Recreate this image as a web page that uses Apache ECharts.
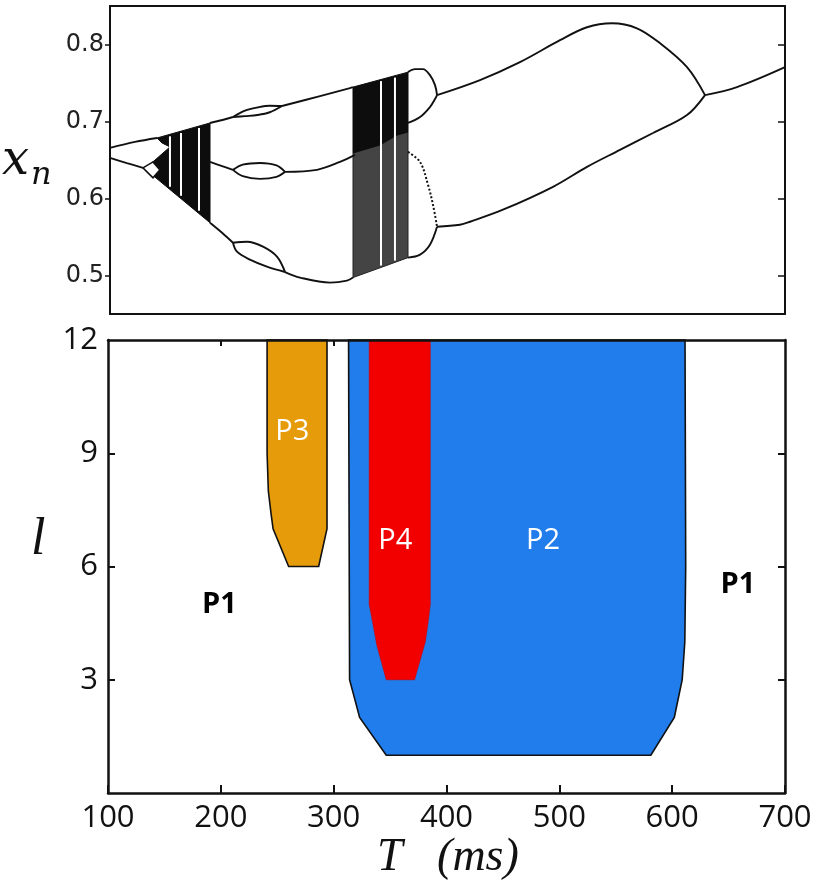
<!DOCTYPE html>
<html><head><meta charset="utf-8">
<script src="https://cdn.jsdelivr.net/npm/echarts@6/dist/echarts.min.js"></script>
<style>html,body{margin:0;padding:0;background:#fff}#c{width:819px;height:885px}</style>
</head><body><div id="c"></div>
<script>
// ---------- Top panel: bifurcation diagram (T, x_n) ----------
const xnTicks = [0.5, 0.6, 0.7, 0.8];
const upperLeft = [[100,0.6657],[122.2,0.6735],[141.8,0.6786]];
const lowerLeft = [[100,0.6527],[115,0.6460],[129.3,0.6398]];
const upperMid1 = [[188.9,0.6981],[200,0.7020],[209.3,0.7058]];
const upperBubbleTop = [[209.3,0.7058],[220,0.7140],[231,0.7182],[242,0.7205],[252.9,0.7201]];
const upperBubbleBot = [[209.3,0.7058],[220,0.7070],[231,0.7084],[242,0.7120],[252.9,0.7201]];
const upperMid2 = [[252.9,0.7201],[286.7,0.7330],[313.3,0.7434],[316,0.7447]];
const middle1 = [[188.9,0.6475],[199,0.6424],[209.3,0.6372]];
const middleBubbleTop = [[209.3,0.6372],[218,0.6440],[233.3,0.6462],[248,0.6430],[255.6,0.6346]];
const middleBubbleBot = [[209.3,0.6372],[218,0.6290],[233.3,0.6255],[248,0.6280],[255.6,0.6346]];
const middle2 = [[255.6,0.6346],[284,0.6372],[304.4,0.6475],[317.8,0.6566]];
const lower1 = [[188.9,0.5685],[199.6,0.5555],[209.3,0.5426]];
const lowerBubbleTop = [[209.3,0.5426],[221.8,0.5439],[236,0.5374],[248.4,0.5245],[255.6,0.5045]];
const lowerBubbleBot = [[209.3,0.5426],[212.9,0.5310],[224.4,0.5206],[239.5,0.5115],[255.6,0.5045]];
const lower2 = [[255.6,0.5045],[268.9,0.4973],[295.6,0.4908],[310.7,0.4934],[316,0.4973]];
const loopTopUpper = [[364.9,0.7641],[371.1,0.7680],[378.2,0.7680],[384.4,0.7602],[388.9,0.7473],[390.7,0.7343]];
const loopTopLower = [[364.9,0.6981],[375.6,0.7058],[384.4,0.7188],[388.9,0.7291],[390.7,0.7343]];
const loopBotUpper = [[364.9,0.6605],[375.6,0.6475],[382.7,0.6177],[387.1,0.5918],[390.7,0.5633]];
const loopBotLower = [[364.9,0.5232],[375.6,0.5271],[384.4,0.5400],[390.7,0.5633]];
const p2Upper = [[390.7,0.7343],[428.9,0.7538],[464.4,0.7771],[500,0.8056],[524,0.8224],[546.2,0.8276],[568.4,0.8211],[588.9,0.8017],[612.9,0.7706],[628.9,0.7343]];
const p2Lower = [[390.7,0.5633],[411.1,0.5659],[420,0.5698],[449.3,0.5854],[493.8,0.6152],[524,0.6411],[553.3,0.6631],[582.7,0.6851],[612.9,0.7084],[628.9,0.7343]];
const rightTail = [[628.9,0.7343],[657.3,0.7447],[700,0.7706]];

// chaotic bands (outlines) and periodic windows
const chaos1 = [[141.8,0.6786],[188.9,0.6981],[188.9,0.5685],[131.1,0.6385],[153.3,0.6670],[146.2,0.6722]];
const chaos2Dense = [[316,0.7447],[364.9,0.7641],[364.9,0.6864],[355.1,0.6825],[340,0.6696],[316,0.6592]];
const chaos2Sparse = [[316,0.6592],[340,0.6696],[355.1,0.6825],[364.9,0.6864],[364.9,0.5232],[316,0.4973]];
const diamond = [[129.3,0.6398],[138.2,0.6475],[144.4,0.6372],[138.2,0.6268]];
const windows = [
  [[153.3,0.6808],[153.3,0.6152]],
  [[163.1,0.6851],[163.1,0.6035]],
  [[179.1,0.6916],[179.1,0.5841]],
  [[340.9,0.7525],[340.9,0.5129]],
  [[353.3,0.7570],[353.3,0.5193]]
];

// ---------- Bottom panel: regions in (T, l) ----------
const tTicks = [100,200,300,400,500,600,700];
const lTicks = [3,6,9,12];
const regionP2 = [[313.2,12],[314.1,3],[323,2],[346.6,1],[581.1,1],[601.9,2],[608.9,3],[611.2,4],[612,6],[611.4,12]];
const regionP4 = [[331.5,12],[331.5,5.0],[334,4.6],[338.4,3.9],[346.6,3],[371.7,3],[381.2,4],[384.1,4.6],[385.6,5.0],[385.6,12]];
const regionP3 = [[241,12],[241,9],[242.1,8],[244.5,7.4],[246.3,7],[260.1,6],[286.7,6],[294.1,7],[294.1,12]];
const regionNames = ['P3','P4','P2'];
const regionLabelPos = [[263.4,9.56],[354.6,6.67],[485.6,6.67]];
const p1LabelPos = [[198.7,4.98],[658.3,5.51]];

const chart = echarts.init(document.getElementById('c'), null, {renderer:'canvas'});

function polygon(points, xi, yi, style, z) {
  return {
    type:'custom', xAxisIndex:xi, yAxisIndex:yi, data:points, z:z, silent:true,
    renderItem:function(params, api){
      if (params.dataIndex !== 0) return null;
      return {type:'polygon', shape:{points: points.map(function(p){return api.coord(p);})}, style:style};
    }
  };
}
function line(data, opts) {
  opts = opts || {};
  return {
    type:'line', xAxisIndex:0, yAxisIndex:0, data:data, showSymbol:false, silent:true,
    smooth: opts.smooth == null ? 0.35 : opts.smooth, z: opts.z || 4,
    lineStyle:{color: opts.color || '#111', width: opts.width || 1.9, type: opts.type || 'solid'}
  };
}

const series = [];
series.push(polygon(chaos1, 0, 0, {fill:'#0d0d0d', stroke:'#0d0d0d', lineWidth:1}, 2));
series.push(polygon(chaos2Sparse, 0, 0, {fill:'#444', stroke:'#222', lineWidth:1}, 2));
series.push(polygon(chaos2Dense, 0, 0, {fill:'#0d0d0d', stroke:'#0d0d0d', lineWidth:1}, 2));
windows.forEach(function(w){ series.push(line(w, {color:'#fff', width:2, smooth:false, z:3})); });
[upperLeft, lowerLeft, upperMid1, upperBubbleTop, upperBubbleBot, upperMid2, middle1,
 middleBubbleTop, middleBubbleBot, middle2, lower1, lowerBubbleTop, lowerBubbleBot, lower2,
 loopTopUpper, loopTopLower, loopBotLower, p2Upper, p2Lower, rightTail].forEach(function(b){ series.push(line(b)); });
series.push(line(loopBotUpper, {type:'dotted', width:2}));
series.push(polygon(diamond, 0, 0, {fill:'#fff', stroke:'#111', lineWidth:1.6}, 5));

// bottom regions
series.push(polygon(regionP2, 2, 2, {fill:'#207DEB', stroke:'#111', lineWidth:1.6}, 2));
series.push(polygon(regionP4, 2, 2, {fill:'#F20000', stroke:'#d00000', lineWidth:0.6}, 3));
series.push(polygon(regionP3, 2, 2, {fill:'#E69B0A', stroke:'#111', lineWidth:1.6}, 3));
series.push({
  type:'scatter', xAxisIndex:2, yAxisIndex:2, symbolSize:0, silent:true, z:6,
  itemStyle:{color:'#fff', opacity:1},
  data: regionNames.map(function(n,i){ return {name:n, value:regionLabelPos[i]}; }),
  label:{show:true, position:'inside', formatter:'{b}', color:'#fff', opacity:1, textBorderWidth:0, fontSize:29, fontFamily:'Open Sans'}
});
series.push({
  type:'scatter', xAxisIndex:2, yAxisIndex:2, symbolSize:0, silent:true, z:6,
  itemStyle:{color:'#fff', opacity:1},
  data: p1LabelPos.map(function(p){ return {name:'P1', value:p}; }),
  label:{show:true, position:'inside', formatter:'{b}', color:'#000', opacity:1, textBorderWidth:0, fontSize:29, fontWeight:'bold', fontFamily:'Open Sans'}
});

const lblFont = {fontSize:31, fontFamily:'Open Sans', color:'#111'};
const frame2 = {show:true, onZero:false, lineStyle:{color:'#111', width:2.5}};
const frame1 = {show:true, onZero:false, lineStyle:{color:'#111', width:2}};

chart.setOption({
  animation:false,
  backgroundColor:'#fff',
  grid:[
    {left:110, top:6, width:675, height:308},
    {left:108, top:340, width:677, height:453}
  ],
  xAxis:[
    {gridIndex:0, type:'value', min:100, max:700, position:'bottom', axisLine:frame1, axisTick:{show:false}, axisLabel:{show:false}, splitLine:{show:false}},
    {gridIndex:0, type:'value', min:100, max:700, position:'top', axisLine:frame1, axisTick:{show:false}, axisLabel:{show:false}, splitLine:{show:false}},
    {gridIndex:1, type:'value', min:100, max:700, interval:100, position:'bottom', axisLine:frame2,
      axisTick:{show:true, inside:true, length:8, lineStyle:{color:'#111', width:2}},
      axisLabel:Object.assign({margin:10, customValues:tTicks}, lblFont), splitLine:{show:false}},
    {gridIndex:1, type:'value', min:100, max:700, interval:100, position:'top', axisLine:frame2, z:10,
      axisTick:{show:true, inside:true, length:6, customValues:[200,300], lineStyle:{color:'#111', width:2}},
      axisLabel:{show:false}, splitLine:{show:false}}
  ],
  yAxis:[
    {gridIndex:0, type:'value', min:0.45, max:0.85, position:'left', axisLine:frame1,
      axisTick:{show:true, inside:false, length:5, customValues:xnTicks, lineStyle:{color:'#111', width:1.5}},
      axisLabel:{customValues:xnTicks, formatter:function(v){return v.toFixed(1);}, margin:6, fontSize:24, fontFamily:'DejaVu Sans', color:'#222'},
      splitLine:{show:false}},
    {gridIndex:0, type:'value', min:0.45, max:0.85, position:'right', axisLine:frame1,
      axisTick:{show:true, inside:true, length:7, customValues:xnTicks, lineStyle:{color:'#111', width:1.5}},
      axisLabel:{show:false}, splitLine:{show:false}},
    {gridIndex:1, type:'value', min:0, max:12, interval:3, position:'left', axisLine:frame2,
      axisTick:{show:true, inside:true, length:7, customValues:[3,6,9], lineStyle:{color:'#111', width:2}},
      axisLabel:Object.assign({margin:10, customValues:lTicks}, lblFont), splitLine:{show:false}},
    {gridIndex:1, type:'value', min:0, max:12, interval:3, position:'right', axisLine:frame2,
      axisTick:{show:true, inside:true, length:7, customValues:[3,6,9], lineStyle:{color:'#111', width:2}},
      axisLabel:{show:false}, splitLine:{show:false}}
  ],
  graphic:[
    {type:'text', left:2, top:138, style:{text:'x', font:'italic 48px "DejaVu Serif", "Liberation Serif", serif', fill:'#111'}},
    {type:'text', left:31, top:160, style:{text:'n', font:'italic 32px "DejaVu Serif", "Liberation Serif", serif', fill:'#111'}},
    {type:'text', left:31, top:514, style:{text:'l', font:'italic 52px "Liberation Serif", "DejaVu Serif", serif', fill:'#111'}},
    {type:'text', left:377, top:835, style:{text:'T   (ms)', font:'italic 46px "Liberation Serif", "DejaVu Serif", serif', fill:'#111'}}
  ],
  series:series
});
</script>
</body></html>
